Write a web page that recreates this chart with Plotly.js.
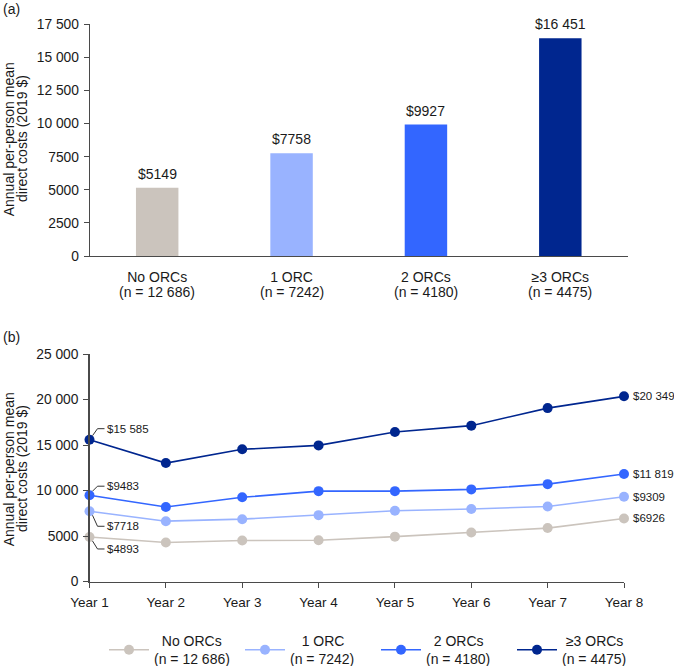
<!DOCTYPE html>
<html>
<head>
<meta charset="utf-8">
<script src="https://cdn.plot.ly/plotly-3.0.1.min.js"></script>
<style>html,body{margin:0;padding:0;background:#fff;}#chart{width:674px;height:666px;}</style>
</head>
<body>
<div id="chart"></div>
<script>
// ---- Data ----
var barCategories = ["No ORCs", "1 ORC", "2 ORCs", "≥3 ORCs"];
var barCounts = ["(n = 12 686)", "(n = 7242)", "(n = 4180)", "(n = 4475)"];
var barValues = [5149, 7758, 9927, 16451];

var years = ["Year 1", "Year 2", "Year 3", "Year 4", "Year 5", "Year 6", "Year 7", "Year 8"];
var legendNames = ["\u00a0\u00a0No ORCs<br>(n = 12 686)", "\u00a0\u00a0\u00a01 ORC<br>(n = 7242)", "\u00a0\u00a02 ORCs<br>(n = 4180)", "\u00a0≥3 ORCs<br>(n = 4475)"];
var noOrcs  = [4893, 4280, 4500, 4540, 4930, 5380, 5870, 6926];
var oneOrc  = [7718, 6630, 6850, 7290, 7770, 7960, 8250, 9309];
var twoOrcs = [9483, 8180, 9250, 9930, 9930, 10120, 10700, 11819];
var threeOrcs = [15585, 13015, 14525, 14955, 16425, 17125, 19055, 20349];

var yTicksA = [0, 2500, 5000, 7500, 10000, 12500, 15000, 17500];
var yTicksB = [0, 5000, 10000, 15000, 20000, 25000];

// ---- Styles ----
var colors = ["#cbc4bd", "#99b3ff", "#3366ff", "#00268f"];
var FONT = "Liberation Sans, Arial, sans-serif";
var TXT = "#1a1a1a";
var AX = "#4a4a4a";

function fmt(v) {
  var s = String(v);
  if (v >= 10000) s = s.slice(0, s.length - 3) + " " + s.slice(s.length - 3);
  return s;
}

var lineSeries = [noOrcs, oneOrc, twoOrcs, threeOrcs];

var traces = [];
traces.push({
  type: "bar", x: barCategories, y: barValues, xaxis: "x", yaxis: "y",
  marker: {color: colors}, width: 0.316, showlegend: false, hoverinfo: "none"
});
for (var i = 0; i < lineSeries.length; i++) {
  traces.push({
    type: "scatter", mode: "lines+markers", x: years, y: lineSeries[i],
    xaxis: "x2", yaxis: "y2", name: legendNames[i],
    line: {color: colors[i], width: 1.6},
    marker: {color: colors[i], size: 10},
    cliponaxis: false, hoverinfo: "none"
  });
}

var annotations = [];
var shapes = [];
// bar value labels and count lines under category labels
for (var j = 0; j < barValues.length; j++) {
  annotations.push({
    xref: "x", yref: "y", x: barCategories[j], y: barValues[j],
    text: "$" + fmt(barValues[j]), showarrow: false, yanchor: "middle", yshift: 14,
    font: {family: FONT, size: 14, color: TXT}
  });
  annotations.push({
    xref: "x", yref: "paper", x: barCategories[j], y: 1 - 292 / 666,
    text: barCounts[j], showarrow: false, yanchor: "middle",
    font: {family: FONT, size: 14, color: TXT}
  });
}
// end labels (Year 8)
for (var k = 0; k < lineSeries.length; k++) {
  var s = lineSeries[k];
  annotations.push({
    xref: "x2", yref: "y2", x: years.length - 1, y: s[s.length - 1],
    text: "$" + fmt(s[s.length - 1]), showarrow: false, xanchor: "left", xshift: 7,
    font: {family: FONT, size: 11.5, color: TXT}
  });
}
// start labels (Year 1) with leader lines
var startShift = [-12, -15, 9, 11];
for (var m = 0; m < lineSeries.length; m++) {
  var v0 = lineSeries[m][0];
  var ys = startShift[m];
  annotations.push({
    xref: "x2", yref: "y2", x: 0, y: v0,
    text: "$" + fmt(v0), showarrow: false, xanchor: "left", xshift: 15, yshift: ys,
    font: {family: FONT, size: 11.5, color: TXT}
  });
  var sgn = ys > 0 ? 1 : -1;
  shapes.push({
    type: "path", xref: "x2", yref: "y2", xsizemode: "pixel", ysizemode: "pixel",
    xanchor: 0, yanchor: v0,
    path: "M3," + (4 * sgn) + " L8," + ys + " L15," + ys,
    line: {color: "#333", width: 1}
  });
}
// y axis titles (two lines each) and panel labels
var titleLines = ["Annual per-person mean", "direct costs (2019 $)"];
var titleX = [9.3, 22];
var titleY = [(666 - 139) / 666, (666 - 469) / 666];
for (var t = 0; t < 2; t++) {
  for (var l = 0; l < 2; l++) {
    annotations.push({
      xref: "paper", yref: "paper", x: titleX[l] / 674, y: titleY[t],
      text: titleLines[l], textangle: -90, showarrow: false,
      xanchor: "center", yanchor: "middle",
      font: {family: FONT, size: 14, color: TXT}
    });
  }
}
annotations.push({xref: "paper", yref: "paper", x: 1 / 674, y: (666 - 9) / 666, text: "(a)", showarrow: false,
  xanchor: "left", yanchor: "middle", font: {family: FONT, size: 14, color: TXT}});
annotations.push({xref: "paper", yref: "paper", x: 1 / 674, y: (666 - 337) / 666, text: "(b)", showarrow: false,
  xanchor: "left", yanchor: "middle", font: {family: FONT, size: 14, color: TXT}});

var yTickFont = {family: FONT, size: 13.8, color: TXT};
var xTickFont = {family: FONT, size: 14, color: TXT};

var layout = {
  width: 674, height: 666,
  margin: {l: 0, r: 0, t: 0, b: 0, autoexpand: false},
  paper_bgcolor: "#fff", plot_bgcolor: "#fff",
  font: {family: FONT, color: TXT},
  showlegend: true,
  xaxis: {
    domain: [90 / 674, 627.5 / 674], anchor: "y", type: "category", range: [-0.5, 3.5],
    showline: true, linecolor: AX, linewidth: 1.3, ticks: "", showgrid: false, zeroline: false,
    tickfont: xTickFont, ticklabelstandoff: 8, fixedrange: true, automargin: false
  },
  yaxis: {
    domain: [1 - 256 / 666, 1 - 24.3 / 666], anchor: "x", range: [0, 17500],
    tickvals: yTicksA, ticktext: yTicksA.map(fmt),
    showline: true, linecolor: AX, linewidth: 1.3, ticks: "outside", ticklen: 5, tickcolor: AX,
    showgrid: false, zeroline: false, tickfont: yTickFont, ticklabelstandoff: 2, fixedrange: true, automargin: false
  },
  xaxis2: {
    domain: [89.5 / 674, 624 / 674], anchor: "y2", type: "category", range: [0, 7],
    showline: true, linecolor: AX, linewidth: 1.3, ticks: "outside", ticklen: 5, tickcolor: AX,
    showgrid: false, zeroline: false, tickfont: {family: FONT, size: 13.5, color: TXT},
    ticklabelstandoff: 3, fixedrange: true, automargin: false
  },
  yaxis2: {
    domain: [1 - 581.5 / 666, 1 - 354 / 666], anchor: "x2", range: [0, 25000],
    tickvals: yTicksB, ticktext: yTicksB.map(fmt),
    showline: true, linecolor: AX, linewidth: 1.3, ticks: "outside", ticklen: 5, tickcolor: AX,
    showgrid: false, zeroline: false, tickfont: yTickFont, ticklabelstandoff: 2, fixedrange: true, automargin: false
  },
  legend: {
    orientation: "h", x: 104 / 674, xanchor: "left", y: (666 - 650) / 666, yanchor: "middle",
    font: {family: FONT, size: 14, color: TXT}, itemwidth: 40, entrywidth: 81, tracegroupgap: 0,
    bgcolor: "rgba(0,0,0,0)", itemclick: false, itemdoubleclick: false
  },
  annotations: annotations,
  shapes: shapes
};

Plotly.newPlot("chart", traces, layout, {staticPlot: true, displayModeBar: false});
</script>
</body>
</html>
